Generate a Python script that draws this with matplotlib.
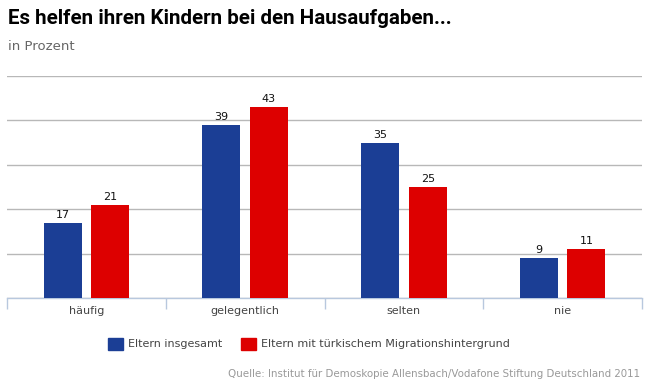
import matplotlib
matplotlib.use("Agg")
import matplotlib.pyplot as plt
import numpy as np
from matplotlib.patches import Rectangle

categories = ["häufig", "gelegentlich", "selten", "nie"]
series_names = ["Eltern insgesamt", "Eltern mit türkischem Migrationshintergrund"]
eltern_insgesamt = [17, 39, 35, 9]
eltern_tuerkisch = [21, 43, 25, 11]
yticks = [0, 10, 20, 30, 40, 50]

title = "Es helfen ihren Kindern bei den Hausaufgaben..."
subtitle = "in Prozent"
source = "Quelle: Institut für Demoskopie Allensbach/Vodafone Stiftung Deutschland 2011"

blue = "#1b3e95"
red = "#dd0000"

W, H = 651, 389
fig = plt.figure(figsize=(W / 100, H / 100), dpi=100)
fig.patch.set_facecolor("white")

left, right = 7 / W, 642 / W
bottom, top = (H - 298) / H, (H - 76) / H
ax = fig.add_axes([left, bottom, right - left, top - bottom])

x = np.arange(len(categories))
bw = 0.24
off = 0.15
ax.bar(x - off, eltern_insgesamt, width=bw, color=blue, zorder=3)
ax.bar(x + off, eltern_tuerkisch, width=bw, color=red, zorder=3)

for xi, v in zip(x - off, eltern_insgesamt):
    ax.text(xi, v + 0.6, str(v), ha="center", va="bottom", fontsize=8, color="#111111",
            family="DejaVu Sans")
for xi, v in zip(x + off, eltern_tuerkisch):
    ax.text(xi, v + 0.6, str(v), ha="center", va="bottom", fontsize=8, color="#111111",
            family="DejaVu Sans")

ax.set_xlim(-0.5, len(categories) - 0.5)
ax.set_ylim(0, 50)
ax.set_yticks(yticks)
ax.yaxis.grid(True, color="#b8b8b8", linewidth=1, zorder=0)
ax.tick_params(axis="y", length=0, labelleft=False)
for s in ["top", "right", "left"]:
    ax.spines[s].set_visible(False)
ax.spines["bottom"].set_color("#b8c8de")
ax.spines["bottom"].set_linewidth(1)

# category boundary ticks
ax.set_xticks(np.arange(-0.5, len(categories)), minor=False)
ax.set_xticklabels([])
ax.tick_params(axis="x", which="major", length=8, color="#b8c8de", width=1, direction="out")
ax.set_xticks(x, minor=True)
ax.set_xticklabels(categories, minor=True)
ax.tick_params(axis="x", which="minor", length=0, pad=6, labelsize=8.0, labelcolor="#444444")

fig.text(8 / W, 1 - 19 / H, title, ha="left", va="center", fontsize=14.8,
         fontweight="bold", family="Roboto", color="black")
fig.text(8 / W, 1 - 46 / H, subtitle, ha="left", va="center", fontsize=9.5,
         color="#666666", family="DejaVu Sans")

# legend
ly = 1 - 344 / H
fig.patches.append(Rectangle((108 / W, ly - 6 / H), 15 / W, 12 / H, transform=fig.transFigure,
                             color=blue, figure=fig))
fig.text(128 / W, ly, series_names[0], ha="left", va="center", fontsize=8.0,
         color="#444444", family="DejaVu Sans")
fig.patches.append(Rectangle((241 / W, ly - 6 / H), 15 / W, 12 / H, transform=fig.transFigure,
                             color=red, figure=fig))
fig.text(261 / W, ly, series_names[1], ha="left", va="center", fontsize=8.0,
         color="#444444", family="DejaVu Sans")

fig.text(640 / W, 1 - 374 / H, source, ha="right", va="center", fontsize=7.4,
         color="#999999", family="DejaVu Sans")

fig.savefig("out.png", dpi=100, facecolor="white")
